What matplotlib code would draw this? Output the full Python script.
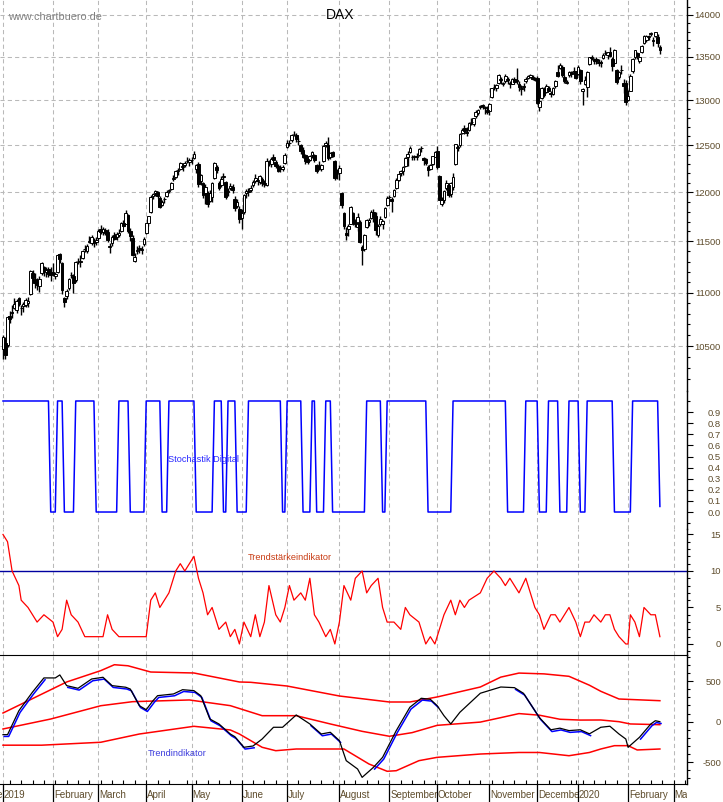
import numpy as np
import pandas as pd
import matplotlib
matplotlib.use('Agg')
import matplotlib.pyplot as plt
from matplotlib.patches import Rectangle
from matplotlib.ticker import FixedLocator, NullFormatter
import matplotlib.transforms as mtrans

plt.rcParams['font.family'] = ['Liberation Sans', 'DejaVu Sans']

# ---------------- data ----------------
holidays = ['2019-01-01', '2019-04-19', '2019-04-22', '2019-05-01', '2019-12-24',
            '2019-12-25', '2019-12-26', '2019-12-31', '2020-01-01']

opens = [
    10477,10532,10508,10778,10815,10857,10837,10948,10850,10870,10880,10900,10990,11190,11130,11100,11060,11190,11246,11200,11230,11200,
    11200,11164,11200,11370,11290,10950,10970,11040,11170,11160,11120,11310,11300,11340,11420,11400,11490,11480,11500,11490,
    11530,11620,11590,11610,11590,11440,11480,11560,11540,11560,11600,11690,11680,11770,11600,11530,11310,11400,11430,11410,11470,
    11580,11690,11800,11960,11990,12000,11940,11870,11930,11960,12010,12040,12140,12160,12230,12250,12270,12290,12330,12320,
    12340,12360,12250,12300,12120,12100,11990,11990,11910,11950,12150,12270,12100,12080,12160,12110,12000,12050,12060,11930,11860,11830,
    11740,11800,11990,12010,12030,12080,12120,12130,12110,12140,12100,12080,12330,12300,12370,12320,12280,12250,12250,12310,
    12480,12530,12560,12620,12610,12550,12510,12450,12400,12350,12340,12400,12400,12290,12280,12250,12330,12500,12500,12370,12430,12330,12190,
    12200,11990,11790,11580,11620,11680,11790,11700,11640,11700,11440,11420,11640,11700,11740,11800,11760,11560,11680,11680,11750,11870,
    11950,11930,11960,12050,12130,12200,12220,12280,12370,12430,12380,12380,12380,12400,12470,12360,12350,12270,12250,12300,12380,
    12440,12170,11880,11920,12050,12080,11980,12060,12300,12470,12500,12640,12690,12650,12670,12760,12730,12820,12860,12920,12950,12920,12890,
    12880,13040,13150,13140,13200,13240,13180,13220,13240,13200,13190,13240,13230,13190,13130,13150,13220,13250,13270,13270,13250,
    13250,12920,13030,13130,13090,13140,13080,13070,13160,13320,13370,13380,13270,13200,13290,13320,13330,13330,
    13300,13350,13100,13180,13150,13420,13500,13480,13470,13440,13440,13490,13550,13520,13560,13480,13430,13350,13260,13350,13200,13200,
    13000,13110,13330,13500,13540,13450,13560,13660,13700,13730,13770,13700,13750,13730,13620]
highs = [
    10601,10585,10782,10829,10880,10945,10934,10959,10880,10907,10944,10960,11222,11218,11184,11137,11160,11300,11257,11250,11250,11250,
    11290,11200,11375,11385,11300,10960,11030,11140,11200,11175,11310,11340,11360,11410,11460,11470,11550,11560,11530,11540,
    11620,11660,11640,11630,11620,11480,11560,11590,11590,11620,11700,11720,11820,11780,11630,11560,11380,11450,11460,11450,11540,
    11690,11760,11970,11990,12020,12010,11960,11920,11950,12020,12040,12110,12180,12240,12260,12320,12300,12330,12370,12360,
    12380,12435,12300,12320,12190,12110,12090,12010,12020,12110,12320,12290,12120,12170,12200,12120,12050,12100,12090,11960,11930,11860,
    11830,11980,12040,12050,12080,12130,12190,12140,12180,12160,12130,12360,12340,12380,12410,12340,12300,12290,12290,12420,
    12560,12560,12620,12656,12640,12580,12520,12480,12410,12380,12400,12440,12410,12300,12330,12300,12500,12550,12590,12430,12440,12340,12250,
    12290,12000,11800,11640,11680,11860,11800,11730,11790,11720,11460,11570,11730,11740,11820,11830,11800,11680,11760,11720,11850,11960,
    11970,11950,12040,12150,12200,12240,12280,12370,12440,12490,12400,12400,12420,12470,12490,12380,12360,12290,12300,12390,12440,
    12490,12180,11950,12020,12130,12090,12110,12200,12520,12510,12640,12690,12720,12700,12760,12800,12800,12890,12900,12950,12960,12940,12930,
    12970,13140,13180,13190,13300,13260,13210,13300,13260,13220,13250,13260,13370,13220,13170,13200,13260,13290,13300,13290,13270,
    13280,12990,13150,13150,13180,13160,13100,13150,13230,13400,13430,13400,13290,13230,13330,13330,13380,13340,
    13410,13360,13140,13280,13330,13500,13520,13490,13500,13470,13460,13540,13580,13560,13620,13500,13590,13360,13340,13400,13240,13230,
    13120,13300,13490,13580,13560,13500,13640,13760,13760,13760,13790,13730,13795,13770,13640]
lows = [
    10387,10387,10490,10711,10760,10840,10808,10870,10792,10819,10864,10862,10975,11116,11041,11025,11005,11166,11160,11150,11150,11110,
    11160,11130,11190,11290,10985,10863,10940,11020,11140,11000,11100,11280,11250,11330,11390,11380,11480,11460,11440,11460,
    11510,11570,11560,11560,11490,11380,11450,11510,11510,11540,11590,11640,11670,11580,11500,11350,11300,11370,11380,11370,11450,
    11570,11650,11790,11930,11960,11940,11840,11860,11890,11950,11990,12030,12120,12150,12180,12240,12230,12270,12310,12280,
    12300,12350,12200,12060,12080,11940,11880,11850,11900,11900,12140,12200,12030,12060,12120,11930,11960,12030,11990,11810,11840,11690,
    11620,11780,11940,11960,12000,12060,12100,12080,12090,12070,12060,12070,12280,12270,12310,12260,12210,12210,12230,12300,
    12470,12490,12540,12600,12540,12510,12410,12360,12300,12300,12330,12360,12320,12200,12240,12230,12320,12480,12340,12350,12370,12130,12140,
    12130,11840,11620,11510,11550,11670,11660,11640,11600,11480,11266,11400,11630,11650,11730,11700,11560,11540,11650,11620,11740,11860,
    11910,11800,11950,12040,12120,12170,12180,12270,12280,12420,12340,12340,12340,12390,12430,12290,12290,12170,12240,12290,12370,
    12250,11920,11860,11890,12030,11950,11950,12030,12290,12440,12480,12620,12620,12600,12660,12720,12710,12800,12830,12900,12900,12850,12850,
    12840,13030,13120,13110,13180,13190,13160,13200,13190,13140,13180,13190,13190,13110,13060,13110,13200,13240,13250,13230,13220,
    12960,12880,13020,13040,13080,13100,13040,13060,13140,13260,13360,13270,13200,13180,13270,13270,13320,13240,
    13290,13190,12948,13170,13040,13410,13460,13420,13420,13390,13380,13480,13520,13480,13500,13330,13420,13190,13240,13300,13080,12950,
    12990,13100,13310,13480,13480,13430,13550,13650,13680,13700,13750,13630,13730,13620,13530]
closes = [
    10580,10416,10767,10747,10803,10893,10921,10887,10856,10891,10931,10919,11205,11136,11090,11071,11130,11282,11210,11218,11181,11173,
    11180,11176,11368,11324,11022,10906,11014,11126,11167,11089,11299,11309,11309,11401,11423,11457,11505,11540,11487,11516,
    11601,11593,11620,11587,11518,11457,11543,11524,11572,11587,11685,11657,11788,11603,11550,11364,11346,11419,11428,11428,11526,
    11681,11754,11954,11988,12010,11963,11850,11905,11935,11999,12020,12101,12153,12222,12236,12313,12282,12315,12328,12344,
    12345,12412,12286,12093,12179,11973,12060,11876,11991,12099,12310,12238,12041,12143,12168,11952,12011,12071,12028,11837,11902,11727,
    11792,11971,12015,12009,12045,12112,12155,12116,12169,12096,12085,12332,12308,12355,12340,12275,12228,12245,12271,12399,
    12521,12526,12616,12629,12568,12543,12436,12373,12332,12323,12387,12430,12342,12227,12260,12289,12490,12522,12362,12419,12386,12147,12189,
    12253,11872,11658,11567,11650,11845,11693,11680,11750,11492,11412,11563,11715,11712,11802,11747,11612,11658,11730,11701,11838,11939,
    11953,11910,12025,12126,12191,12226,12268,12359,12410,12468,12380,12389,12389,12457,12468,12342,12307,12234,12288,12381,12428,
    12263,11925,11925,12012,12097,11970,12094,12164,12511,12486,12630,12670,12655,12633,12747,12754,12798,12872,12894,12941,12939,12910,12867,
    12961,13136,13148,13179,13289,13228,13198,13283,13230,13180,13242,13207,13221,13148,13137,13163,13246,13275,13288,13245,13236,
    12964,12989,13141,13055,13166,13105,13071,13140,13222,13283,13407,13287,13222,13212,13319,13300,13337,13249,
    13386,13219,13127,13227,13321,13495,13483,13452,13456,13432,13430,13526,13549,13556,13515,13389,13577,13205,13324,13345,13158,12982,
    13046,13282,13479,13575,13514,13494,13627,13750,13745,13745,13784,13682,13789,13665,13579]

# Stochastik Digital (trading-day index, value)
stoch_points = [(0,1),(20,1),(21,0),(23,0),(24,1),(26,1),(27,0),(31,0),(32,1),(40,1),(41,0),(50,0),(51,1),(55,1),
                (56,0),(62,0),(63,1),(69,1),(70,0),(72,0),(73,1),(84,1),(85,0),(92,0),(93,1),(96,1),(97,0),(98,0),
                (99,1),(102,1),(103,0),(107,0),(108,1),(122,1),(123,0),(124,0),(125,1),(131,1),(132,0),(135,0),
                (136,1),(137,1),(138,0),(141,0),(142,1),(144,1),(145,0),(159,0),(160,1),(166,1),(167,0),(168,0),
                (169,1),(186,1),(187,0),(197,0),(198,1),(221,1),(222,0),(229,0),(230,1),(235,1),(236,0),(239,0),
                (240,1),(244,1),(245,0),(248,0),(249,1),(253,1),(254,0),(256,0),(257,1),(268,1),(269,0),(276,0),
                (277,1),(288,1),(289,0.05)]

# Trendstaerkeindikator (trading-day index, value)
trendstaerke_points = [(0,15),(2,14),(4,10),(7,8),(8,6),(11,5),(13,4),(15,3),(18,4),(22,3),(24,1),(26,2),(28,6),(30,4),
                       (33,3),(36,1),(40,1),(44,1),(46,4),(48,2),(51,1),(56,1),(60,1),(63,1),(65,6),(67,7),(69,5),(73,7),
                       (76,10),(78,11),(80,10),(82,11),(84,12),(86,9),(88,7),(90,4),(92,5),(95,2),(98,3),(100,1),(102,2),
                       (104,0),(106,3),(109,1),(111,4),(113,1),(115,3),(117,8),(120,4),(122,3),(124,5),(126,8),(128,6),
                       (131,7),(133,6),(135,9),(137,4),(139,3),(142,1),(144,2),(146,0),(148,3),(150,8),(153,6),(155,9),
                       (158,10),(160,7),(162,8),(165,9),(167,5),(169,3),(172,3),(175,2),(177,5),(179,4),(183,3),(186,0),
                       (188,1),(190,0),(192,2),(194,4),(197,6),(199,4),(201,6),(203,5),(205,6),(210,7),(213,9),(216,10),
                       (219,9),(221,8),(223,9),(225,8),(227,7),(230,9),(232,7),(234,5),(236,4),(238,2),(241,4),(243,4),
                       (245,3),(247,4),(249,5),(252,3),(254,1),(256,3),(258,3),(260,4),(263,3),(265,4),(267,4),(269,2),
                       (271,1),(274,0),(275,0),(276,4),(278,3),(280,1),(282,5),(285,4),(287,4),(289,1)]

# Trendindikator main line (trading-day index, value)
trend_points = [(0,-160),(2,-160),(7,136),(13,366),(18,540),(23,540),(25,577),(28,445),(33,412),(39,527),(44,548),
                (48,445),(54,425),(56,403),(60,197),(63,148),(66,259),(68,321),(75,342),(79,395),(84,383),(87,321),
                (91,33),(95,-28),(100,-152),(102,-185),(106,-316),(110,-300),(114,-214),(119,-69),(123,-69),(129,83),
                (135,-28),(140,-152),(144,-131),(148,-234),(151,-481),(156,-584),(158,-687),(163,-563),(167,-440),
                (173,-111),(179,178),(184,289),(188,276),(191,198),(194,74),(197,-28),(201,116),(210,351),(219,428),
                (225,420),(229,350),(236,50),(241,-100),(245,-80),(249,-110),(254,-100),(258,-150),(263,-69),(267,-56),
                (271,-152),(274,-214),(275,-316),(280,-193),(285,-28),(287,12),(289,0)]
# day ranges where the blue signal line is visible
blue_ranges = [(0, 22), (26, 111), (134, 148), (162, 191), (221, 258), (280, 289)]

band_upper = [(0,107),(28,490),(43,630),(49,703),(55,690),(65,613),(84,601),(104,490),(109,486),(125,440),(148,317),
              (170,243),(179,243),(191,305),(210,428),(219,550),(227,600),(238,590),(249,560),(258,450),(263,375),
              (271,280),(289,259)]
band_middle = [(0,-90),(21,33),(43,197),(57,247),(82,268),(100,198),(114,74),(129,74),(144,-28),(158,-119),(170,-180),
               (180,-135),(191,-45),(210,-5),(219,50),(227,100),(236,80),(245,30),(254,20),(263,21),(271,0),(276,-28),
               (289,-37)]
band_lower = [(0,-290),(17,-290),(43,-254),(60,-152),(84,-57),(100,-102),(104,-152),(114,-316),(120,-358),(129,-337),
              (150,-337),(161,-522),(169,-612),(173,-605),(183,-481),(191,-440),(210,-399),(227,-380),(236,-380),
              (249,-420),(258,-380),(263,-337),(269,-296),(275,-296),(279,-349),(289,-337)]

month_labels = ['2019', 'February', 'March', 'April', 'May', 'June', 'July', 'August', 'September',
                'October', 'November', 'December', '2020', 'February', 'March']
price_ticks = [10500, 11000, 11500, 12000, 12500, 13000, 13500, 14000]
stoch_ticks = [0.0, 0.1, 0.2, 0.3, 0.4, 0.5, 0.6, 0.7, 0.8, 0.9]
strength_ticks = [0, 5, 10, 15]
trend_ticks = [-500, 0, 500]

# ---------------- layout ----------------
W, H = 723, 803
fig = plt.figure(figsize=(W / 100, H / 100), dpi=100)
fig.patch.set_facecolor('white')
X0, K, XR = 3.0, 2.273, 687.0
xlim = (-X0 / K, (XR - X0) / K)
LABEL_X = 721.0 / XR   # right edge of y labels in axes fraction

def add_ax(top, bottom):
    ax = fig.add_axes([0, 1 - bottom / H, XR / W, (bottom - top) / H])
    for s in ax.spines.values():
        s.set_visible(False)
    ax.set_facecolor('none')
    return ax

ax_p = add_ax(0, 392)
ax_s = add_ax(392, 530)
ax_t = add_ax(530, 656)
ax_r = add_ax(656, 785)
ax_l = add_ax(785, 803)

dates = pd.bdate_range('2019-01-02', '2020-03-31', freq='C', holidays=holidays)
n = len(closes)
idx = np.arange(n)
per = dates.to_period('M')
month_starts = [i for i in range(len(dates)) if (i == 0 or per[i] != per[i - 1]) and i < xlim[1]]
mondays = [i for i in range(len(dates)) if dates[i].weekday() == 0 and i < xlim[1]]

grid_col = '#b9b9b9'
grid_ls = (0, (4, 3))
lab_col = '#5e4c2c'
FS = 6.8

def style_panel(ax, ticks, labels, minor):
    ax.vlines(month_starts, 0, 1, transform=ax.get_xaxis_transform(), colors=grid_col,
              linestyles=grid_ls, linewidth=0.75, zorder=0)
    ax.spines['right'].set_visible(True)
    ax.spines['right'].set_linewidth(1.0)
    ax.yaxis.tick_right()
    ax.yaxis.set_major_locator(FixedLocator(ticks))
    ax.yaxis.set_minor_locator(FixedLocator(minor))
    ax.tick_params(axis='y', which='both', direction='out', colors='black',
                   labelright=False, labelleft=False, length=4, width=0.8)
    ax.tick_params(axis='y', which='minor', length=2.5)
    ax.tick_params(axis='x', which='both', bottom=False, labelbottom=False)
    tr = mtrans.blended_transform_factory(ax.transAxes, ax.transData)
    for t, s in zip(ticks, labels):
        ax.text(LABEL_X, t, s, transform=tr, ha='right', va='center', fontsize=FS,
                color=lab_col, clip_on=False)

# ---- price panel ----
ax_p.set_yscale('log')
ax_p.hlines(price_ticks, xlim[0], xlim[1], colors=grid_col, linestyles=grid_ls, linewidth=0.75, zorder=0)
o = np.array(opens); hh = np.array(highs); ll = np.array(lows); c = np.array(closes)
ax_p.vlines(idx, ll, hh, colors='black', linewidth=1.0, zorder=2)
up = c >= o
ax_p.bar(idx[up], (c - o)[up], bottom=o[up], width=1.2, color='white', edgecolor='black',
         linewidth=0.7, zorder=3)
ax_p.bar(idx[~up], (o - c)[~up], bottom=c[~up], width=1.2, color='black', edgecolor='black',
         linewidth=0.7, zorder=3)
style_panel(ax_p, price_ticks, [str(t) for t in price_ticks], list(range(10200, 14200, 100)))
ax_p.yaxis.set_minor_formatter(NullFormatter())
ax_p.yaxis.set_major_formatter(NullFormatter())
ax_p.set_ylim(10098, 14196)

# ---- stochastic digital ----
sx = [p[0] for p in stoch_points]; sy = [p[1] for p in stoch_points]
ax_s.plot(sx, sy, color='#0000ff', linewidth=1.1, zorder=3)
style_panel(ax_s, stoch_ticks, [f'{v:.1f}' for v in stoch_ticks], [-0.1, 1.0])
ax_s.set_ylim(-0.153, 1.09)

# ---- trend strength ----
ax_t.axhline(10, color='#0000a0', linewidth=1.0, zorder=2)
tx = [p[0] for p in trendstaerke_points]; ty = [p[1] for p in trendstaerke_points]
ax_t.plot(tx, ty, color='#ff0000', linewidth=0.9, zorder=3)
style_panel(ax_t, strength_ticks, [str(v) for v in strength_ticks], list(range(-1, 16)))
ax_t.set_ylim(-1.51, 15.75)

# ---- trend indicator ----
ax_r.spines['top'].set_visible(True)
ax_r.spines['bottom'].set_visible(True)
for band in (band_upper, band_middle, band_lower):
    ax_r.plot([p[0] for p in band], [p[1] for p in band], color='#ff0000', linewidth=1.1, zorder=2)
trx = np.array([p[0] for p in trend_points], float)
try_ = np.array([p[1] for p in trend_points], float)
for a, b in blue_ranges:
    m = (trx >= a) & (trx <= b)
    ax_r.plot(trx[m] + 0.5, try_[m] - 22, color='#0000ff', linewidth=1.1, zorder=3)
ax_r.plot(trx, try_, color='black', linewidth=0.9, zorder=4)
style_panel(ax_r, trend_ticks, [str(v) for v in trend_ticks], list(range(-700, 801, 100)))
ax_r.set_xticks(mondays, minor=True)
ax_r.set_xticks([])
ax_r.tick_params(axis='x', which='minor', bottom=True, direction='in', length=3, width=0.8)
ax_r.set_ylim(-769, 823)

# ---- label strip ----
ax_l.set_ylim(0, 1)
ax_l.set_yticks([])
ax_l.set_xticks([])
ax_l.vlines(month_starts, 0, 1, colors='black', linewidth=0.9)
bounds = month_starts + [xlim[1]]
for i, lab in enumerate(month_labels[:len(month_starts)]):
    s, e = bounds[i], bounds[i + 1]
    t = ax_l.text(s + 0.35, 0.42, lab, fontsize=FS + 0.2, color=lab_col, ha='left', va='center',
                  clip_on=True)
    t.set_clip_path(Rectangle((s, 0), e - s, 1, transform=ax_l.transData))
t0 = ax_l.text(0, 0.42, 'Decembe', fontsize=FS + 0.2, color=lab_col, ha='right', va='center', clip_on=True)
t0.set_clip_path(Rectangle((xlim[0], 0), -xlim[0], 1, transform=ax_l.transData))

for ax in (ax_p, ax_s, ax_t, ax_r, ax_l):
    ax.set_xlim(*xlim)

# ---- texts ----
def ftext(x, y, s, **kw):
    fig.text(x / W, 1 - y / H, s, **kw)

ftext(340, 15, 'DAX', fontsize=10, color='black', ha='center', va='center')
ftext(8, 17, 'www.chartbuero.de', fontsize=7.8, color='#808080', ha='left', va='center')
ftext(168, 460, 'Stochastik Digital', fontsize=6.6, color='#2828ff', ha='left', va='center')
ftext(248, 558, 'Trendstärkeindikator', fontsize=6.6, color='#c83c14', ha='left', va='center')
ftext(148, 754, 'Trendindikator', fontsize=6.6, color='#3c3cdc', ha='left', va='center')

fig.savefig('out.png', dpi=100, facecolor='white')
